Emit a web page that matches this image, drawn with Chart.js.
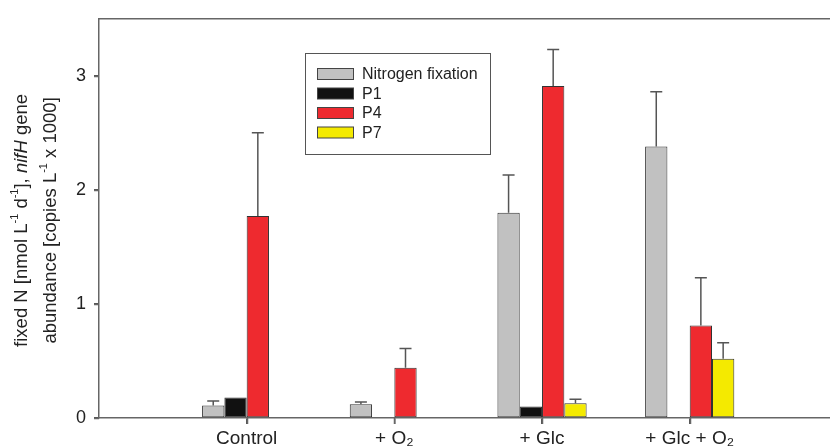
<!DOCTYPE html>
<html>
<head>
<meta charset="utf-8">
<script src="https://cdn.jsdelivr.net/npm/chart.js@4"></script>
<style>
  html, body { margin: 0; padding: 0; background: #fff; }
  #wrap { width: 830px; height: 446px; }
</style>
</head>
<body>
<div id="wrap"><canvas id="myChart" width="830" height="446"></canvas></div>
<script>
const categories = ['Control', '+ O₂', '+ Glc', '+ Glc + O₂'];
const seriesNames = ['Nitrogen fixation', 'P1', 'P4', 'P7'];

// bar heights
const nitrogenFixation = [0.11, 0.12, 1.80, 2.38];
const p1 = [0.18, null, 0.10, null];
const p4 = [1.77, 0.44, 2.91, 0.81];
const p7 = [null, null, 0.13, 0.52];

// upper error (added on top of the bar)
const nitrogenFixationErr = [0.04, 0.02, 0.33, 0.48];
const p1Err = [null, null, null, null];
const p4Err = [0.73, 0.17, 0.32, 0.42];
const p7Err = [null, null, 0.035, 0.14];

const yTicks = [0, 1, 2, 3];

const colors = ['#c1c1c1', '#111111', '#ee2a2f', '#f4ea00'];
const FONT = "'Liberation Sans', Arial, Helvetica, sans-serif";

function points(values) {
  return values.map((v, i) => ({ x: i + 1, y: v }));
}

const series = [nitrogenFixation, p1, p4, p7];
const errors = [nitrogenFixationErr, p1Err, p4Err, p7Err];

const errorBars = {
  id: 'errorBars',
  afterDatasetsDraw(chart) {
    const ctx = chart.ctx;
    const y = chart.scales.y;
    chart.data.datasets.forEach((ds, i) => {
      const meta = chart.getDatasetMeta(i);
      meta.data.forEach((bar, j) => {
        const v = ds.data[j].y;
        const e = ds.errors[j];
        if (v == null || e == null) return;
        const top = y.getPixelForValue(v + e);
        ctx.save();
        ctx.strokeStyle = '#555';
        ctx.lineWidth = 1.5;
        ctx.beginPath();
        ctx.moveTo(bar.x, bar.y);
        ctx.lineTo(bar.x, top);
        ctx.moveTo(bar.x - 6, top);
        ctx.lineTo(bar.x + 6, top);
        ctx.stroke();
        ctx.restore();
      });
    });
  }
};

// top frame line, tick marks, legend box, two-line y title
const decorations = {
  id: 'decorations',
  afterDraw(chart) {
    const ctx = chart.ctx;
    const area = chart.chartArea;
    const xs = chart.scales.x, ys = chart.scales.y;

    ctx.save();
    ctx.strokeStyle = '#666';
    ctx.lineWidth = 1.5;
    ctx.beginPath();
    ctx.moveTo(area.left, area.top);
    ctx.lineTo(area.right, area.top);
    xs.ticks.forEach(t => {
      const px = Math.round(xs.getPixelForValue(t.value)) + 0.5;
      ctx.moveTo(px, area.bottom);
      ctx.lineTo(px, area.bottom + 6);
    });
    ys.ticks.forEach(t => {
      const py = Math.round(ys.getPixelForValue(t.value)) + 0.5;
      ctx.moveTo(area.left, py);
      ctx.lineTo(area.left - 5, py);
    });
    ctx.stroke();

    // legend
    ctx.strokeStyle = '#555';
    ctx.lineWidth = 1;
    ctx.strokeRect(305.5, 53.5, 185, 101);
    ctx.font = '16px ' + FONT;
    ctx.textBaseline = 'middle';
    chart.data.datasets.forEach((ds, i) => {
      const cy = 74 + i * 19.5;
      ctx.fillStyle = ds.backgroundColor;
      ctx.fillRect(317, cy - 5.5, 36, 11);
      ctx.strokeStyle = '#444';
      ctx.strokeRect(317.5, cy - 5.5, 36, 11);
      ctx.fillStyle = '#222';
      ctx.fillText(ds.label, 362, cy + 1);
    });

    // y title
    const lines = [
      [['fixed N [nmol L'], ['-1', 'sup'], [' d'], ['-1', 'sup'], ['], '], ['nifH', 'it'], [' gene']],
      [['abundance [copies L'], ['-1', 'sup'], [' x 1000]']]
    ];
    const lx = [22, 51];
    const cy = (area.top + area.bottom) / 2 + 2;
    const fontOf = (k) => k === 'sup' ? '11px ' + FONT : (k === 'it' ? 'italic 18.5px ' + FONT : '18.5px ' + FONT);
    lines.forEach((segs, li) => {
      ctx.save();
      ctx.translate(lx[li], cy);
      ctx.rotate(-Math.PI / 2);
      ctx.fillStyle = '#222';
      ctx.textBaseline = 'middle';
      let w = 0;
      segs.forEach(s => { ctx.font = fontOf(s[1]); w += ctx.measureText(s[0]).width; });
      let x = -w / 2;
      segs.forEach(s => {
        ctx.font = fontOf(s[1]);
        ctx.fillText(s[0], x, s[1] === 'sup' ? -7 : 0);
        x += ctx.measureText(s[0]).width;
      });
      ctx.restore();
    });
    ctx.restore();
  }
};

const config = {
  type: 'bar',
  data: {
    datasets: series.map((vals, i) => ({
      label: seriesNames[i],
      data: points(vals),
      errors: errors[i],
      backgroundColor: colors[i],
      borderColor: '#333',
      borderWidth: 1,
      borderSkipped: false,
      categoryPercentage: 0.604,
      barPercentage: 1
    }))
  },
  options: {
    responsive: false,
    animation: false,
    layout: { padding: { top: 14, right: 0, left: 0, bottom: 0 } },
    plugins: {
      legend: { display: false },
      tooltip: { enabled: false }
    },
    scales: {
      x: {
        type: 'linear',
        min: 0,
        max: 4.95,
        offset: false,
        afterBuildTicks: (scale) => { scale.ticks = categories.map((c, i) => ({ value: i + 1 })); },
        afterFit: (scale) => { scale.height = 28; },
        ticks: {
          callback: (v) => categories[v - 1],
          font: { family: FONT, size: 19 },
          color: '#222',
          padding: 3,
          maxRotation: 0,
          autoSkip: false
        },
        grid: { offset: false, drawOnChartArea: false, drawTicks: true, tickLength: 6, color: '#555', lineWidth: 1.5 },
        border: { display: true, color: '#666', width: 1.5 }
      },
      y: {
        min: 0,
        max: 3.5,
        afterBuildTicks: (scale) => { scale.ticks = yTicks.map(v => ({ value: v })); },
        afterFit: (scale) => { scale.width = 99; },
        ticks: {
          font: { family: FONT, size: 18 },
          color: '#222',
          padding: 8
        },
        grid: { drawOnChartArea: false, drawTicks: true, tickLength: 5, color: '#555', lineWidth: 1.5 },
        border: { display: true, color: '#666', width: 1.5 }
      }
    }
  },
  plugins: [errorBars, decorations]
};

const wrapper = document.querySelector('#myChart');
const myChart = new Chart(wrapper, config);
</script>
</body>
</html>
